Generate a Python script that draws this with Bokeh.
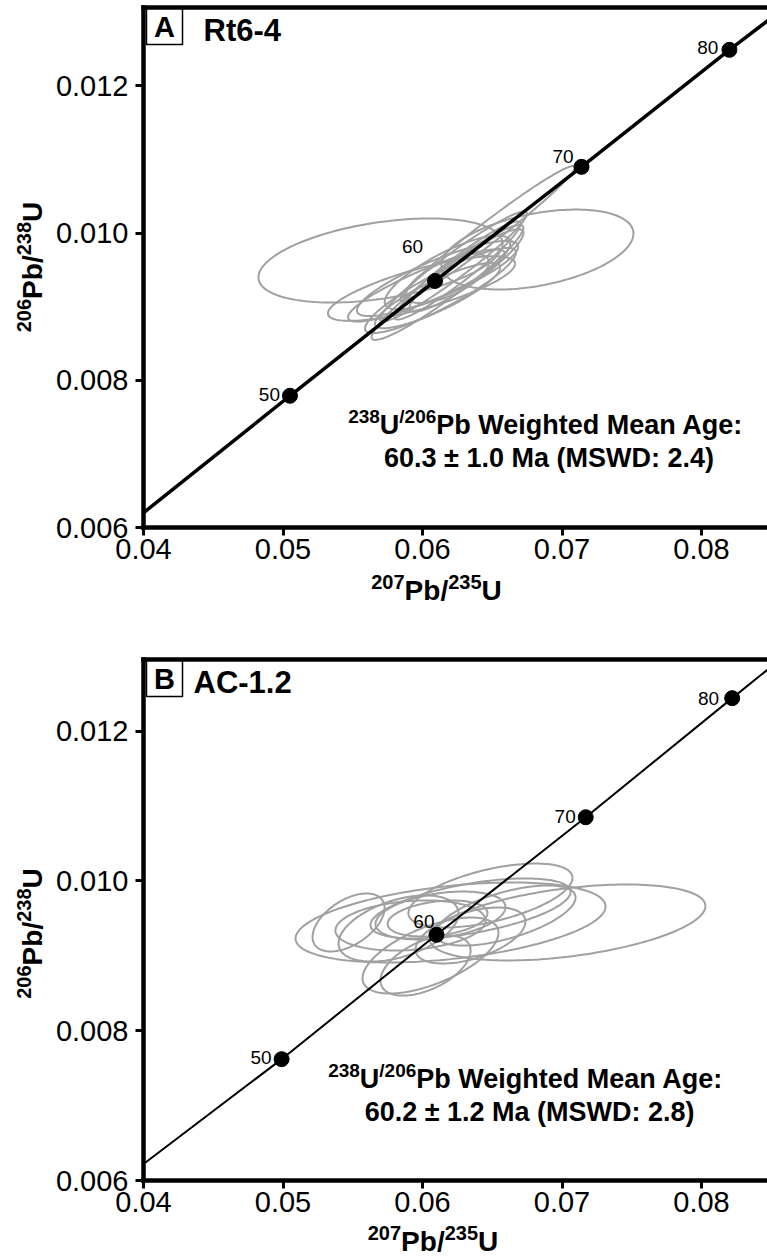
import numpy as np
from bokeh.plotting import figure
from bokeh.models import Range1d, FixedTicker, CustomJSTickFormatter, LinearAxis, Label
from bokeh.layouts import column
from bokeh.core.properties import value
from bokeh.embed import file_html
from bokeh.resources import INLINE

# ---------------- data ----------------
x_ticks = [0.04, 0.05, 0.06, 0.07, 0.08]
y_ticks = [0.006, 0.008, 0.010, 0.012]
age_labels = ["50", "60", "70", "80"]

# Panel A (Rt6-4)
a_conc_x = [0.0400, 0.0505, 0.0609, 0.0714, 0.0820, 0.0870]
a_conc_y = [0.00620, 0.00779, 0.00935, 0.01090, 0.01249, 0.01321]
a_dot_x = [0.0505, 0.0609, 0.0714, 0.0820]
a_dot_y = [0.00779, 0.00935, 0.01090, 0.01249]
a_ell_x = [0.05699, 0.06824, 0.06466, 0.05993, 0.06108, 0.06129, 0.06179,
           0.06222, 0.06251, 0.06179, 0.06179, 0.06108, 0.06315, 0.06029]
a_ell_xerr = [0.00875, 0.00688, 0.00626, 0.00671, 0.00578, 0.00541, 0.00544,
              0.00527, 0.00452, 0.00297, 0.00450, 0.00449, 0.00409, 0.00563]
a_ell_y = [0.009628, 0.009777, 0.009995, 0.009247, 0.009383, 0.009220, 0.009329,
           0.009546, 0.009492, 0.009383, 0.009465, 0.009152, 0.009492, 0.009288]
a_ell_yerr = [0.000571, 0.000543, 0.000917, 0.000439, 0.000510, 0.000579, 0.000780,
              0.000747, 0.000666, 0.000333, 0.000501, 0.000444, 0.000560, 0.000490]
a_ell_rho = [0.40, 0.40, 0.98, 0.77, 0.85, 0.89, 0.95, 0.96, 0.95, 0.66, 0.80, 0.86, 0.91, 0.88]

# Panel B (AC-1.2)
b_conc_x = [0.0400, 0.0499, 0.0610, 0.0717, 0.0822, 0.0870]
b_conc_y = [0.00622, 0.00762, 0.00928, 0.01085, 0.01244, 0.01316]
b_dot_x = [0.0499, 0.0610, 0.0717, 0.0822]
b_dot_y = [0.00762, 0.00928, 0.01085, 0.01244]
b_ell_x = [0.07039, 0.06201, 0.05470, 0.05828, 0.06344, 0.06108, 0.06129,
           0.06057, 0.06022, 0.06344, 0.06487, 0.05914, 0.06595]
b_ell_xerr = [0.00989, 0.01111, 0.00258, 0.00430, 0.00717, 0.00358, 0.00466,
              0.00487, 0.00323, 0.00394, 0.00588, 0.00538, 0.00502]
b_ell_y = [0.009445, 0.009445, 0.009445, 0.009365, 0.009632, 0.009498, 0.009538,
           0.009004, 0.008870, 0.009271, 0.009805, 0.009405, 0.009538]
b_ell_yerr = [0.000507, 0.000534, 0.000387, 0.000441, 0.000401, 0.000240, 0.000320,
              0.000507, 0.000401, 0.000374, 0.000427, 0.000334, 0.000401]
b_ell_rho = [0.43, 0.40, 0.50, 0.45, 0.55, 0.30, 0.35, 0.60, 0.50, 0.50, 0.55, 0.20, 0.60]

# ---------------- style ----------------
FONT = "Liberation Sans"
ELL_COLOR = "#a0a0a0"
W = 767
PX_X = 13950.0          # pixels per unit of 207Pb/235U
FRAME_LEFT = 143        # pixel of x = 0.04
MID = 0.35              # cap middle above the baseline, in em
BOLD_W = {'0': 556, '1': 556, '2': 556, '3': 556, '4': 556, '5': 556, '6': 556, '7': 556,
          '8': 556, '9': 556, 'P': 667, 'b': 611, '/': 278, 'U': 722, ' ': 278, 'W': 944,
          'e': 556, 'i': 278, 'g': 611, 'h': 611, 't': 333, 'd': 611, 'M': 833, 'a': 556,
          'n': 611, 'A': 722, ':': 333, '.': 278, '±': 584, '(': 333, ')': 333, 'S': 667,
          'D': 722, 'R': 722, '-': 333, 'C': 722, 'B': 722}


def tw(s, size):
    return sum(BOLD_W.get(c, 556) for c in s) / 1000.0 * size


def put_runs(p, H, runs, center, base, vertical=False):
    """Place bold text runs (text, size, raise) centred at `center` with the
    baseline at `base`; coordinates are image pixels from the panel's top-left."""
    total = sum(tw(t, s) for t, s, r in runs)
    if not vertical:
        pos = center - total / 2.0
    else:
        pos = center + total / 2.0
    for t, s, r in runs:
        if not vertical:
            lab = Label(x=pos, y=H - (base - r - MID * s), x_units="screen",
                        y_units="screen", text=t, text_font=FONT,
                        text_font_size=f"{s}px", text_font_style="bold",
                        text_align="left", text_baseline="middle", text_color="black")
            pos += tw(t, s)
        else:
            lab = Label(x=base - r - MID * s, y=H - pos, x_units="screen",
                        y_units="screen", text=t, angle=np.pi / 2, text_font=FONT,
                        text_font_size=f"{s}px", text_font_style="bold",
                        text_align="left", text_baseline="middle", text_color="black")
            pos -= tw(t, s)
        p.add_layout(lab)


def ellipse_paths(xc, xe, yc, ye, rho):
    t = np.linspace(0, 2 * np.pi, 181)
    xs, ys = [], []
    for cx, sx, cy, sy, r in zip(xc, xe, yc, ye, rho):
        xs.append(list(cx + sx * np.cos(t)))
        ys.append(list(cy + sy * (r * np.cos(t) + np.sqrt(1 - r * r) * np.sin(t))))
    return xs, ys


def make_panel(letter, name, H, px_y, frame_top, frame_bottom, conc_x, conc_y,
               dot_x, dot_y, ex, exe, ey, eye, erho, conc_w, lab_dx, lab_dy, line2,
               ann_cx, ann_base, xt_center, xt_base, yt_center, name_x, name_base):
    # whole canvas is the frame; axes are pinned at the data origin
    x0 = 0.04 - FRAME_LEFT / PX_X
    x1 = 0.04 + (W - FRAME_LEFT) / PX_X
    y0 = 0.006 - (H - frame_bottom) / px_y
    y1 = 0.006 + frame_bottom / px_y
    y_top = 0.006 + (frame_bottom - frame_top) / px_y

    p = figure(width=W, height=H, min_border=0,
               x_range=Range1d(x0, x1), y_range=Range1d(y0, y1),
               output_backend="svg", toolbar_location=None)
    p.outline_line_color = None
    p.xgrid.visible = False
    p.ygrid.visible = False
    p.background_fill_color = "white"
    p.border_fill_color = "white"

    xa = p.xaxis[0]
    ya = p.yaxis[0]
    xa.ticker = FixedTicker(ticks=x_ticks)
    xa.formatter = CustomJSTickFormatter(code="return tick.toFixed(2);")
    xa.fixed_location = 0.006
    xa.bounds = (0.04, x1)
    ya.ticker = FixedTicker(ticks=y_ticks)
    ya.formatter = CustomJSTickFormatter(code="return tick.toFixed(3);")
    ya.fixed_location = 0.04
    ya.bounds = (0.006, y_top)
    for ax in (xa, ya):
        ax.axis_line_width = 4.5
        ax.axis_line_color = "black"
        ax.axis_line_cap = "square"
        ax.major_tick_line_width = 3
        ax.major_tick_out = 8
        ax.major_tick_in = 0
        ax.minor_tick_out = 0
        ax.minor_tick_in = 0
        ax.major_label_text_font = FONT
        ax.major_label_text_font_size = "29px"
        ax.major_label_text_color = "black"
    xa.major_label_standoff = 3
    ya.major_label_standoff = 7

    top_ax = LinearAxis(ticker=FixedTicker(ticks=[]), axis_line_width=4.5,
                        axis_line_color="black", axis_line_cap="square",
                        fixed_location=y_top, bounds=(0.04, x1),
                        major_tick_out=0, major_tick_in=0, minor_tick_out=0,
                        minor_tick_in=0, major_label_text_font_size="0px")
    p.add_layout(top_ax, "above")

    # analysis ellipses
    xs, ys = ellipse_paths(ex, exe, ey, eye, erho)
    p.multi_line(xs=xs, ys=ys, line_color=ELL_COLOR, line_width=2)

    # concordia with age marks
    p.line(conc_x, conc_y, line_color="black", line_width=conc_w)
    p.scatter(dot_x, dot_y, size=15, color="black")
    p.text(x=dot_x, y=dot_y, text=age_labels, x_offset=lab_dx,
           y_offset=[-d for d in lab_dy], text_align="right", text_baseline="middle",
           text_font=value(FONT), text_font_size="19px", text_color="black")

    # sample id box
    p.quad(left=0.04 + 3 / PX_X, right=0.04 + 39 / PX_X, top=y_top,
           bottom=y_top - 37 / px_y, fill_color="white", line_color="black",
           line_width=1.5)
    p.add_layout(Label(x=FRAME_LEFT + 21, y=H - (frame_top + 19), x_units="screen",
                       y_units="screen", text=letter, text_font=FONT,
                       text_font_size="29px", text_font_style="bold",
                       text_align="center", text_baseline="middle", text_color="black"))
    p.add_layout(Label(x=name_x, y=H - (name_base - MID * 31), x_units="screen",
                       y_units="screen", text=name, text_font=FONT,
                       text_font_size="31px", text_font_style="bold", text_align="left",
                       text_baseline="middle", text_color="black"))

    # weighted mean annotation
    put_runs(p, H, [("238", 19, 11), ("U", 27, 0), ("/206", 19, 11),
                    ("Pb Weighted Mean Age:", 27, 0)], ann_cx[0], ann_base[0])
    put_runs(p, H, [(line2, 27, 0)], ann_cx[1], ann_base[1])

    # axis titles
    put_runs(p, H, [("207", 20, 12), ("Pb/", 28, 0), ("235", 20, 12), ("U", 28, 0)],
             xt_center, xt_base)
    put_runs(p, H, [("206", 20, 12), ("Pb/", 28, 0), ("238", 20, 12), ("U", 28, 0)],
             yt_center, 42, vertical=True)
    return p


pA = make_panel("A", "Rt6-4", 620, 73600.0, 7, 527,
                a_conc_x, a_conc_y, a_dot_x, a_dot_y,
                a_ell_x, a_ell_xerr, a_ell_y, a_ell_yerr, a_ell_rho, 3.5,
                [-10, -12, -8, -11], [1, 34, 10, 2],
                "60.3 ± 1.0 Ma (MSWD: 2.4)",
                [545.5, 549], [433.5, 467.3], 436, 600, 266.5, 203, 41)
pB = make_panel("B", "AC-1.2", 637, 74900.0, 39, 560,
                b_conc_x, b_conc_y, b_dot_x, b_dot_y,
                b_ell_x, b_ell_xerr, b_ell_y, b_ell_yerr, b_ell_rho, 2,
                [-10, -2, -10, -13], [2, 13, 1, 0],
                "60.2 ± 1.2 Ma (MSWD: 2.8)",
                [525.5, 529.6], [467.5, 500.8], 432.5, 631, 313, 193, 73)

layout = column(pA, pB, spacing=0)
open("out.html", "w").write(file_html(layout, INLINE))
